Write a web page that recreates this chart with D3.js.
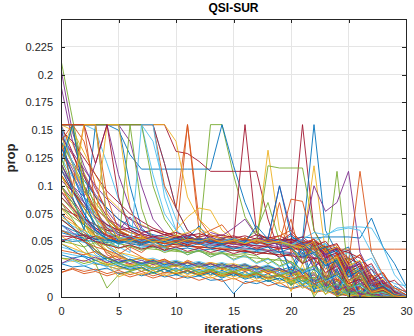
<!DOCTYPE html>
<html><head><meta charset="utf-8">
<script src="https://cdn.jsdelivr.net/npm/d3@7"></script>
<style>html,body{margin:0;padding:0;background:#fff}svg{display:block}</style>
</head><body><svg id="c" width="414" height="336"></svg>
<script>
const title = "QSI-SUR";
const xLabel = "iterations";
const yLabel = "prop";
const xTicks = [0, 5, 10, 15, 20, 25, 30];
const yTicks = [0, 0.025, 0.05, 0.075, 0.1, 0.125, 0.15, 0.175, 0.2, 0.225];
const yTickLabels = ["0", "0.025", "0.05", "0.075", "0.1", "0.125", "0.15", "0.175", "0.2", "0.225"];
const iterations = d3.range(0, 31);
const palette = ["#0072BD", "#D95319", "#EDB120", "#7E2F8E", "#77AC30", "#4DBEEE", "#A2142F"];
// values in thousandths, one string per run, iterations 0..30 ("|" only groups by 5)
const runs = [
"155 155 155 155 155 | 155 100 62 53 51 | 52 50 53 50 49 | 51 52 48 50 47 | 52 46 38 30 22 | 12 8 3 1 0 | 0",
"120 98 72 55 38 | 33 29 31 26 30 | 27 33 29 31 28 | 26 30 24 27 22 | 25 18 21 12 9 | 6 3 2 1 0 | 0",
"150 138 112 90 68 | 58 54 51 55 49 | 52 50 54 49 51 | 50 53 48 51 47 | 49 44 30 35 18 | 10 14 5 2 1 | 0",
"205 148 118 97 78 | 64 58 55 52 50 | 51 49 52 50 48 | 51 49 50 47 49 | 46 40 28 33 15 | 20 8 3 5 1 | 0",
"213 160 110 80 60 | 53 51 49 52 50 | 51 53 50 155 155 | 110 72 56 52 50 | 48 42 30 18 25 | 8 12 2 4 0 | 0",
"70 64 58 52 47 | 40 36 33 35 31 | 33 30 32 29 31 | 28 30 26 29 24 | 22 26 15 19 8 | 12 4 6 1 0 | 0",
"155 155 155 155 155 | 155 155 155 155 155 | 131 129 122 113 113 | 113 113 113 70 40 | 30 20 12 6 3 | 1 0 0 0 0 | 0",
"155 155 155 155 155 | 150 128 115 115 115 | 115 115 115 115 155 | 118 85 60 45 35 | 25 48 30 12 5 | 2 0 0 0 0 | 0",
"95 85 70 60 55 | 52 50 51 49 50 | 52 155 60 52 50 | 53 51 49 52 50 | 48 38 45 25 32 | 12 18 5 8 2 | 0",
"80 68 52 38 30 | 27 24 26 22 25 | 21 23 20 24 19 | 22 18 21 16 19 | 15 11 14 6 9 | 3 5 1 0 0 | 0",
"190 140 110 92 80 | 70 62 57 54 52 | 50 53 51 48 52 | 49 51 48 50 47 | 49 45 34 38 20 | 25 10 14 3 2 | 0",
"110 88 66 48 42 | 30 27 31 25 28 | 23 27 21 24 22 | 26 20 23 18 21 | 14 18 9 12 4 | 6 2 3 0 0 | 0",
"155 155 155 155 155 | 155 155 155 140 98 | 70 54 51 49 52 | 50 53 49 51 48 | 46 40 44 28 35 | 15 20 6 9 2 | 0",
"60 57 55 52 51 | 53 50 52 49 51 | 50 52 49 51 50 | 48 52 49 51 50 | 48 155 60 42 30 | 35 15 20 6 3 | 0",
"65 60 56 54 52 | 51 53 50 52 50 | 49 51 48 52 50 | 49 51 50 48 52 | 50 51 155 60 40 | 45 20 25 8 4 | 1",
"100 80 65 55 52 | 50 51 49 52 50 | 51 49 50 52 50 | 49 51 50 48 50 | 43 43 43 43 43 | 43 43 43 43 43 | 43",
"130 118 98 75 55 | 40 32 28 31 26 | 29 27 24 28 25 | 22 26 21 24 18 | 20 14 17 8 11 | 4 6 2 1 0 | 0",
"140 110 90 75 65 | 60 72 56 52 50 | 48 53 50 49 47 | 51 49 52 48 50 | 46 49 35 40 22 | 28 12 15 4 2 | 0",
"50 48 45 49 46 | 50 52 49 51 48 | 52 50 49 51 47 | 50 48 52 49 51 | 47 44 38 30 113 | 20 25 8 10 2 | 0",
"155 155 155 150 120 | 88 65 52 49 51 | 48 52 50 53 49 | 51 48 50 52 47 | 50 45 52 30 38 | 18 22 8 11 3 | 1",
"155 130 100 78 58 | 53 50 52 49 51 | 50 48 52 49 50 | 52 155 58 52 50 | 47 50 38 42 25 | 30 12 16 4 2 | 0",
"30 27 28 24 26 | 21 23 19 22 18 | 20 17 19 15 16 | 3 14 12 15 10 | 8 11 5 7 2 | 3 1 0 0 0 | 0",
"75 68 58 50 40 | 35 33 30 34 29 | 32 28 31 27 30 | 26 29 24 28 22 | 25 19 22 13 16 | 7 9 3 2 0 | 0",
"155 150 130 110 90 | 80 70 65 60 58 | 55 53 51 52 50 | 53 49 51 50 48 | 50 46 40 45 25 | 30 14 18 5 3 | 0",
"155 155 155 155 155 | 155 140 100 70 58 | 54 51 49 52 50 | 49 51 48 52 50 | 47 50 42 35 38 | 20 25 9 12 3 | 1",
"90 78 62 45 33 | 28 24 26 21 25 | 20 23 19 22 18 | 21 17 20 14 17 | 12 15 8 10 3 | 5 1 2 0 0 | 0",
"45 42 40 37 35 | 32 34 30 33 29 | 31 28 30 27 29 | 25 28 24 27 22 | 24 18 21 11 14 | 6 8 2 3 0 | 0",
"145 128 108 90 72 | 60 54 51 53 50 | 52 49 51 48 50 | 52 49 51 47 50 | 48 51 45 38 42 | 25 30 12 8 3 | 1",
"120 98 76 58 45 | 38 33 35 30 33 | 29 31 27 30 26 | 29 25 28 23 26 | 20 24 15 18 7 | 10 3 4 1 0 | 0",
"155 155 155 155 155 | 155 155 155 155 100 | 80 155 70 55 52 | 50 53 49 51 48 | 50 46 52 40 45 | 28 32 14 18 5 | 2",
"110 95 80 70 62 | 58 55 52 50 48 | 52 49 53 50 51 | 48 52 49 132 60 | 48 50 40 44 28 | 32 14 18 6 3 | 1",
"85 75 65 58 53 | 50 52 49 51 53 | 50 48 52 49 51 | 50 47 51 49 52 | 48 45 50 38 42 | 25 30 12 15 4 | 2",
"60 55 45 30 8 | 20 23 26 22 25 | 21 24 20 23 19 | 22 18 21 16 19 | 13 17 9 12 4 | 6 2 3 1 0 | 0",
"155 155 155 155 155 | 155 155 155 155 120 | 80 60 52 50 53 | 49 51 48 52 50 | 47 51 44 48 30 | 36 16 20 6 8 | 2",
"100 88 72 62 55 | 52 50 53 49 51 | 48 52 50 49 51 | 53 49 51 48 50 | 57 48 52 40 44 | 24 30 10 14 4 | 1",
"52 50 51 50 49 | 50 51 50 49 50 | 51 50 49 50 51 | 50 49 50 51 50 | 52 54 53 54 54 | 54 53 71 45 30 | 10",
"130 112 95 78 62 | 50 42 36 31 34 | 28 32 27 30 25 | 29 24 27 21 25 | 19 23 15 18 9 | 12 4 6 1 0 | 0",
"35 32 33 29 31 | 27 30 26 29 25 | 28 24 27 23 26 | 22 25 21 24 19 | 22 17 20 12 15 | 7 9 3 4 1 | 0",
"105 95 85 75 65 | 58 55 53 50 52 | 49 51 48 52 50 | 49 51 48 52 100 | 60 48 52 30 38 | 18 24 7 10 2 | 0",
"140 120 100 85 70 | 60 55 51 53 49 | 52 50 48 51 49 | 52 50 48 118 116 | 116 116 60 40 45 | 22 28 8 12 3 | 1",
"155 155 155 155 155 | 155 155 155 110 75 | 60 52 49 51 48 | 52 50 47 51 49 | 46 50 38 42 25 | 30 12 16 4 2 | 0",
"80 75 70 65 60 | 58 55 53 50 52 | 50 49 52 48 51 | 50 53 49 51 48 | 52 47 50 42 45 | 35 30 20 10 5 | 2",
"140 122 105 90 80 | 70 64 60 56 54 | 52 55 51 53 50 | 52 49 51 48 50 | 55 47 50 38 42 | 20 26 8 12 2 | 0",
"22 25 21 23 19 | 22 18 21 17 20 | 16 19 15 18 14 | 17 12 15 10 13 | 7 10 4 6 1 | 3 0 1 0 0 | 0",
"155 155 155 155 155 | 155 155 155 155 155 | 140 90 70 60 55 | 52 50 53 49 51 | 48 45 118 40 44 | 20 25 8 10 2 | 0",
"115 100 90 80 70 | 65 60 55 52 50 | 53 49 51 48 52 | 50 47 51 49 52 | 48 50 100 77 85 | 113 40 20 8 3 | 1",
"70 62 52 42 35 | 30 27 29 24 27 | 23 26 22 25 20 | 23 19 22 17 20 | 14 18 10 13 5 | 8 2 3 0 0 | 0",
"60 57 55 53 52 | 54 51 53 50 52 | 49 53 50 52 49 | 51 48 52 49 51 | 47 50 45 48 40 | 42 30 35 18 12 | 10",
"155 155 155 155 155 | 155 155 155 155 120 | 80 60 52 49 51 | 48 52 50 47 51 | 49 46 50 35 40 | 18 24 6 9 1 | 0",
"48 42 36 30 28 | 25 28 23 27 22 | 26 21 25 20 24 | 19 23 17 21 15 | 19 12 16 8 11 | 4 6 1 2 10 | 4",
"85 75 65 55 50 | 52 49 51 48 52 | 50 47 51 49 53 | 50 48 52 49 51 | 47 50 45 40 43 | 30 113 40 20 8 | 2",
"55 48 40 33 28 | 25 29 23 27 21 | 25 20 24 19 23 | 18 22 16 20 14 | 18 11 15 6 9 | 3 5 1 0 0 | 0",
"65 58 50 42 36 | 31 34 29 32 27 | 31 26 30 25 29 | 24 28 22 26 20 | 24 16 20 10 14 | 5 8 2 1 0 | 0",
"155 155 155 155 155 | 155 155 155 100 70 | 55 51 53 49 52 | 50 48 52 49 51 | 47 50 43 46 30 | 35 15 20 6 3 | 0",
"50 52 49 53 50 | 52 49 51 48 52 | 50 49 53 50 48 | 51 49 52 50 48 | 51 47 50 55 62 | 63 63 62 45 20 | 8",
"90 80 70 62 56 | 53 51 54 50 52 | 49 53 51 48 52 | 50 53 49 51 48 | 52 45 49 36 40 | 22 28 10 13 4 | 1",
"75 63 50 40 33 | 28 25 27 22 25 | 20 24 19 22 17 | 21 16 19 14 17 | 11 15 7 10 3 | 5 1 2 0 0 | 0",
"42 40 38 41 35 | 37 33 35 31 34 | 29 31 27 30 25 | 28 23 26 21 24 | 19 22 17 20 15 | 14 18 12 10 8 | 5",
"100 82 66 52 42 | 36 33 35 30 33 | 28 32 27 30 25 | 29 24 27 22 25 | 20 23 15 18 9 | 12 4 6 1 0 | 0",
"145 130 115 100 88 | 78 70 64 60 56 | 53 55 51 54 50 | 52 49 53 50 51 | 48 52 45 40 44 | 26 32 14 18 5 | 2",
"35 34 30 33 29 | 31 27 30 26 28 | 24 27 22 25 21 | 23 19 22 17 20 | 15 18 12 16 9 | 12 6 8 3 2 | 0",
"125 108 90 75 64 | 57 53 51 54 50 | 52 49 53 50 51 | 48 52 49 51 50 | 47 50 44 48 36 | 40 22 28 10 5 | 0",
"55 54 56 52 53 | 50 52 49 51 48 | 50 47 49 46 48 | 45 47 44 46 43 | 45 42 44 41 43 | 40 35 25 15 5 | 1",
"58 55 53 52 51 | 50 52 51 50 49 | 51 50 49 50 52 | 51 50 49 50 48 | 20 40 5 30 2 | 25 0 15 0 5 | 0",
"115 95 80 65 55 | 50 48 47 46 45 | 48 46 45 47 44 | 45 43 44 42 43 | 70 30 50 10 40 | 5 20 0 10 0 | 2",
"95 80 65 55 45 | 40 38 35 33 30 | 32 30 28 31 29 | 30 27 28 25 26 | 5 30 2 20 0 | 10 0 5 0 0 | 0",
"135 115 95 80 70 | 62 58 55 52 50 | 51 49 50 48 49 | 47 48 46 47 45 | 46 30 50 10 35 | 0 20 0 8 0 | 0",
"80 72 65 58 52 | 48 46 44 43 42 | 41 40 42 39 40 | 38 39 37 30 35 | 10 25 0 15 0 | 5 0 0 0 0 | 0",
"40 38 36 35 33 | 30 32 29 31 28 | 30 27 29 26 28 | 25 27 24 26 22 | 20 8 15 3 10 | 0 4 0 0 0 | 0",
"150 140 125 110 95 | 85 75 68 62 58 | 55 53 51 50 49 | 48 47 46 45 44 | 43 30 45 15 38 | 5 25 2 10 0 | 0",
"155 90 60 155 70 | 50 48 46 45 44 | 43 44 42 43 41 | 42 40 41 39 40 | 38 20 35 5 25 | 0 10 0 0 0 | 0",
"140 100 155 155 90 | 60 50 48 47 46 | 45 46 44 45 43 | 44 42 43 41 40 | 39 38 10 30 2 | 15 0 5 0 0 | 0",
"130 155 100 70 155 | 155 80 55 50 48 | 47 46 45 44 43 | 42 41 40 39 38 | 37 15 30 5 20 | 0 8 0 0 0 | 0",
"150 120 90 120 155 | 110 80 60 55 52 | 50 49 48 47 46 | 45 44 43 42 41 | 40 35 45 20 30 | 5 15 0 3 0 | 0",
"110 155 100 70 50 | 45 155 80 50 45 | 42 40 41 38 39 | 37 36 35 34 33 | 32 10 25 2 15 | 0 5 0 0 0 | 0",
"100 85 70 60 50 | 45 40 155 155 90 | 60 50 48 46 45 | 44 43 42 41 40 | 39 38 10 30 5 | 20 0 10 0 0 | 0",
"155 155 155 120 155 | 90 60 55 50 48 | 47 46 45 44 43 | 42 41 40 39 38 | 37 36 35 34 5 | 30 0 20 0 5 | 0",
"115 95 75 60 52 | 50 53 49 52 50 | 48 52 64 50 53 | 49 51 48 52 50 | 20 45 10 35 5 | 25 0 12 0 3 | 0",
"60 55 50 45 42 | 38 45 40 48 42 | 50 45 55 60 65 | 52 48 50 46 85 | 40 50 30 45 15 | 30 5 15 2 5 | 0",
"145 120 95 80 70 | 62 58 55 52 54 | 60 72 80 78 60 | 52 49 51 48 50 | 47 30 45 20 38 | 10 25 3 8 0 | 0",
"95 80 68 60 55 | 52 50 53 50 52 | 49 51 48 58 55 | 62 70 55 50 47 | 45 49 25 40 8 | 30 2 15 0 3 | 0",
"125 100 80 65 58 | 54 51 53 50 52 | 49 51 53 50 52 | 48 51 60 85 50 | 45 30 48 15 35 | 5 20 0 8 0 | 0",
"30 33 28 31 27 | 30 26 29 25 28 | 24 27 23 26 22 | 25 20 23 17 20 | 24 12 18 5 12 | 2 6 0 2 0 | 0",
"110 95 82 72 65 | 60 62 58 60 56 | 58 55 57 54 56 | 53 55 52 54 51 | 52 49 50 45 48 | 30 38 15 22 5 | 2",
"38 35 37 33 35 | 31 34 30 33 29 | 32 28 31 27 30 | 26 29 25 28 24 | 27 22 25 15 20 | 8 12 3 5 1 | 0",
"22 26 23 25 21 | 24 20 23 19 22 | 21 24 20 23 19 | 22 18 21 17 20 | 16 19 12 15 6 | 9 2 4 0 1 | 0",
"48 44 40 35 30 | 18 22 20 24 19 | 22 18 21 17 20 | 16 19 14 17 12 | 15 8 11 3 6 | 1 2 0 0 0 | 0",
"30 35 32 36 31 | 34 30 33 29 32 | 28 31 27 30 26 | 29 25 28 23 26 | 21 25 14 19 6 | 10 2 4 0 0 | 0",
"85 70 55 42 35 | 30 33 28 31 26 | 29 25 28 24 27 | 23 26 21 25 19 | 23 14 18 8 12 | 3 5 1 0 0 | 0",
"65 56 60 50 54 | 47 51 44 48 41 | 45 38 42 36 40 | 33 37 30 34 27 | 31 22 27 14 19 | 8 11 3 4 1 | 0",
"50 54 51 55 52 | 56 53 57 54 56 | 53 57 54 56 53 | 55 52 56 53 55 | 50 54 46 50 38 | 42 25 30 12 15 | 5",
"135 110 85 65 52 | 48 51 47 50 46 | 49 45 48 44 47 | 43 46 42 45 40 | 44 36 40 28 33 | 15 20 5 8 1 | 0",
"155 155 140 100 75 | 60 55 52 54 51 | 53 50 52 49 51 | 48 52 49 51 55 | 60 48 52 44 47 | 33 38 18 22 6 | 2",
"72 66 60 55 52 | 54 51 53 50 52 | 55 58 62 56 52 | 50 53 49 52 48 | 51 46 50 40 45 | 28 33 12 16 3 | 1",
"120 100 85 72 62 | 56 53 51 54 50 | 52 49 53 50 52 | 49 51 48 52 49 | 51 47 50 38 44 | 26 30 12 15 4 | 1",
"100 85 68 55 48 | 44 46 42 45 40 | 43 38 42 36 40 | 34 38 31 35 28 | 32 24 28 16 22 | 8 12 3 5 0 | 0",
"155 120 90 70 58 | 52 55 50 53 49 | 52 48 51 47 50 | 53 49 52 48 51 | 47 52 58 56 60 | 62 60 40 18 6 | 1",
"70 62 55 50 47 | 44 47 43 46 42 | 45 41 44 40 43 | 39 42 38 41 36 | 39 30 35 22 28 | 12 16 4 6 1 | 0",
"120 155 90 60 52 | 49 52 48 51 50 | 53 49 52 50 48 | 51 49 64 52 100 | 55 48 40 45 30 | 18 24 6 10 2 | 0",
"140 155 155 80 55 | 50 53 49 52 48 | 51 50 47 52 49 | 50 53 48 51 49 | 88 86 45 30 38 | 15 22 5 8 1 | 0",
"110 90 155 155 70 | 52 50 54 49 51 | 48 52 50 53 49 | 51 48 52 49 50 | 47 44 50 30 36 | 14 20 4 7 1 | 0"
];
const series = runs.map(s => s.split(/[\s|]+/).filter(t => t.length).map(Number).map(v => v / 1000));

const svg = d3.select("#c");
const m = {l: 61, r: 8, t: 19, b: 39};
const W = 414, H = 336;
const x = d3.scaleLinear().domain([0, 30]).range([m.l, W - m.r]);
const y = d3.scaleLinear().domain([0, 0.25]).range([H - m.b, m.t]);
const axisColor = "#262626";
const font = "Liberation Sans, Arial, Helvetica, sans-serif";

const g = svg.append("g");
g.selectAll(".gx").data(xTicks).join("line")
  .attr("x1", d => x(d)).attr("x2", d => x(d)).attr("y1", m.t).attr("y2", H - m.b)
  .attr("stroke", "#e5e5e5").attr("stroke-width", 1).attr("shape-rendering", "crispEdges");
g.selectAll(".gy").data(yTicks).join("line")
  .attr("x1", m.l).attr("x2", W - m.r).attr("y1", d => y(d)).attr("y2", d => y(d))
  .attr("stroke", "#e5e5e5").attr("stroke-width", 1).attr("shape-rendering", "crispEdges");

svg.append("clipPath").attr("id", "clip").append("rect")
  .attr("x", m.l).attr("y", m.t).attr("width", W - m.l - m.r).attr("height", H - m.t - m.b);

const line = d3.line().x((d, i) => x(iterations[i])).y(d => y(d));
svg.append("g").attr("clip-path", "url(#clip)")
  .selectAll("path").data(series).join("path")
  .attr("d", line).attr("fill", "none")
  .attr("stroke", (d, i) => palette[i % palette.length])
  .attr("stroke-width", 0.9).attr("stroke-linejoin", "round");

const ax = svg.append("g").attr("transform", `translate(0,${H - m.b})`)
  .call(d3.axisBottom(x).tickValues(xTicks).tickSizeInner(-4).tickSizeOuter(0).tickPadding(10));
const ay = svg.append("g").attr("transform", `translate(${m.l},0)`)
  .call(d3.axisLeft(y).tickValues(yTicks).tickFormat((d, i) => yTickLabels[i]).tickSizeInner(-4).tickSizeOuter(0).tickPadding(8));
const axTop = svg.append("g").attr("transform", `translate(0,${m.t})`)
  .call(d3.axisTop(x).tickValues(xTicks).tickSizeInner(-4).tickSizeOuter(0).tickFormat(""));
const ayR = svg.append("g").attr("transform", `translate(${W - m.r},0)`)
  .call(d3.axisRight(y).tickValues(yTicks).tickSizeInner(-4).tickSizeOuter(0).tickFormat(""));
[ax, ay, axTop, ayR].forEach(a => {
  a.selectAll("path").attr("stroke", axisColor).attr("shape-rendering", "crispEdges");
  a.selectAll("line").attr("stroke", axisColor).attr("shape-rendering", "crispEdges");
  a.selectAll("text").attr("fill", axisColor).style("font-family", font).style("font-size", "11px");
});

svg.append("text").attr("x", (m.l + W - m.r) / 2).attr("y", 12).attr("text-anchor", "middle")
  .style("font-family", font).style("font-size", "12px").style("font-weight", "bold").attr("fill", "#000").text(title);
svg.append("text").attr("x", (m.l + W - m.r) / 2).attr("y", 333).attr("text-anchor", "middle")
  .style("font-family", font).style("font-size", "13px").style("font-weight", "bold").attr("fill", axisColor).text(xLabel);
svg.append("text").attr("transform", `translate(15,${(m.t + H - m.b) / 2}) rotate(-90)`).attr("text-anchor", "middle")
  .style("font-family", font).style("font-size", "13px").style("font-weight", "bold").attr("fill", axisColor).text(yLabel);
</script></body></html>
